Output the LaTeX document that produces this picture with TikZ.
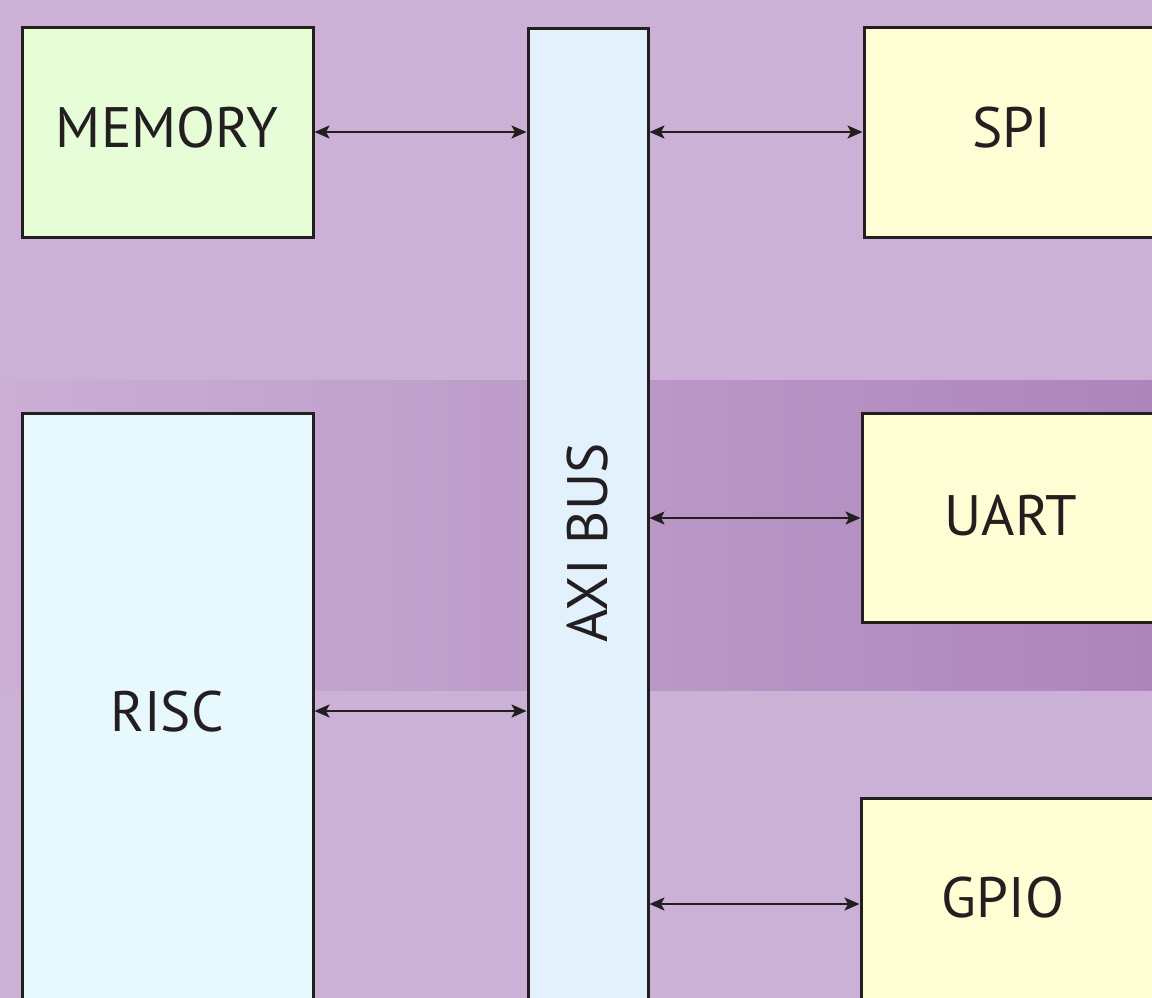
\documentclass[tikz,border=0pt]{standalone}
\usepackage{fontspec}
\setmainfont{PT Sans}
\usetikzlibrary{arrows.meta}
\definecolor{bgpurple}{HTML}{CCB1D6}
\definecolor{bandleft}{HTML}{CBAFD5}
\definecolor{bandright}{HTML}{AD85BC}
\definecolor{memfill}{HTML}{E6FDD8}
\definecolor{busfill}{HTML}{E3F1FD}
\definecolor{riscfill}{HTML}{E8F9FE}
\definecolor{perfill}{HTML}{FFFDD3}
\definecolor{ink}{HTML}{231F20}
\tikzset{
  block/.style={draw=ink, line width=3pt, inner sep=0pt, outer sep=0pt},
  lbl/.style={text=ink, font=\fontsize{57}{57}\selectfont},
  link/.style={draw=ink, line width=2.2pt, {Stealth[length=15pt,width=13pt,inset=3.5pt]}-{Stealth[length=15pt,width=13pt,inset=3.5pt]}}
}
\begin{document}
\begin{tikzpicture}[x=1pt,y=-1pt]
\useasboundingbox (0,0) rectangle (1152,998);
\clip (0,0) rectangle (1152,998);
% background and middle band
\fill[bgpurple] (0,0) rectangle (1152,998);
\shade[left color=bandleft, right color=bandright] (0,380) rectangle (1152,690);
% blocks
\filldraw[block, fill=memfill] (22,28) rectangle (313,237);
\filldraw[block, fill=riscfill] (22,413) rectangle (313,1010);
\filldraw[block, fill=busfill] (528,29) rectangle (648,1010);
\filldraw[block, fill=perfill] (864,28) rectangle (1170,237);
\filldraw[block, fill=perfill] (862,413) rectangle (1170,622);
\filldraw[block, fill=perfill] (861,798) rectangle (1170,1010);
% anchor points for the connectors
\coordinate (memR) at (314.5,132);
\coordinate (busMem) at (526.5,132);
\coordinate (busSpi) at (649.5,132);
\coordinate (spiL) at (862.5,132);
\coordinate (busUart) at (649.5,518);
\coordinate (uartL) at (860.5,518);
\coordinate (riscR) at (314.5,711);
\coordinate (busRisc) at (526.5,711);
\coordinate (busGpio) at (649.5,904);
\coordinate (gpioL) at (859.5,904);
% labels
\node[lbl] (mem) at (167,128) {MEMORY};
\node[lbl] (spi) at (1012,128) {SPI};
\node[lbl] (uart) at (1011,515) {UART};
\node[lbl] (gpio) at (1003,898) {GPIO};
\node[lbl] (risc) at (167,712) {RISC};
\node[lbl, rotate=90] (bus) at (588,543) {AXI BUS};
% connectors
\draw[link] (memR) -- (busMem);
\draw[link] (busSpi) -- (spiL);
\draw[link] (busUart) -- (uartL);
\draw[link] (riscR) -- (busRisc);
\draw[link] (busGpio) -- (gpioL);
\end{tikzpicture}
\end{document}
